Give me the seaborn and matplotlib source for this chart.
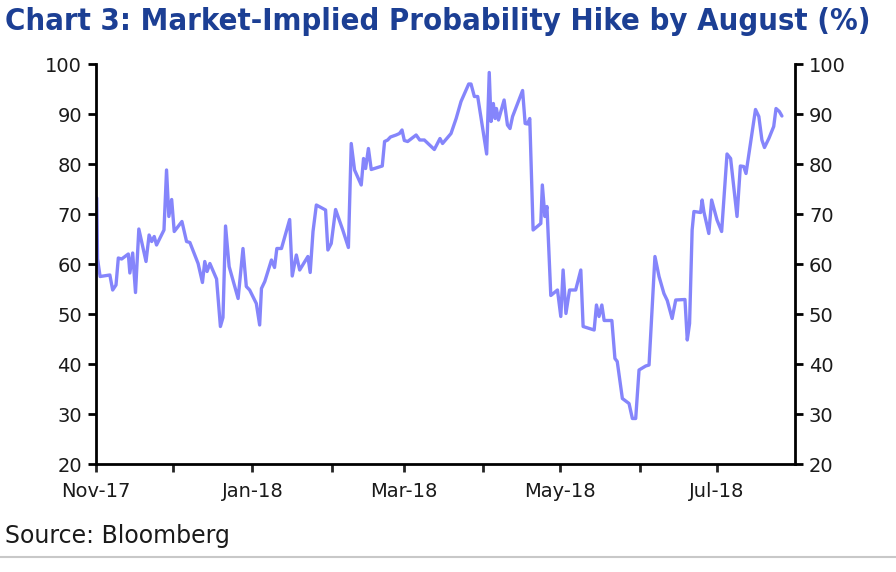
import matplotlib
matplotlib.use("Agg")
import matplotlib.pyplot as plt
import matplotlib.dates as mdates
import seaborn as sns
import pandas as pd
import numpy as np

# days since 2017-11-01 and the implied probability (%)
days = [0.3, 0.6, 1.6, 5.4, 6.5, 7.8, 8.7, 10.0, 11.3, 12.6, 13.2, 14.3, 15.4, 16.7,
        19.5, 20.7, 21.7, 22.7, 23.6, 26.5, 27.5, 28.4, 29.5, 30.5, 33.5, 35.3, 36.6,
        39.8, 41.5, 42.4, 43.3, 44.4, 47.0, 48.5, 49.5, 50.5, 51.9, 55.4, 57.3, 58.6,
        59.9, 62.5, 63.8, 64.5, 65.8, 68.4, 69.6, 70.5, 72.3, 75.5, 76.5, 78.1, 79.4,
        82.6, 83.5, 84.6, 85.9, 89.5, 90.4, 91.7, 93.4, 96.2, 98.4, 99.5, 100.8, 103.4,
        104.3, 105.1, 106.2, 107.3, 111.6, 112.5, 113.7, 114.8, 117.0, 118.3, 119.3,
        120.2, 121.5, 124.8, 126.2, 128.0, 131.9, 134.1, 135.1, 138.4, 140.4, 142.3,
        145.3, 146.2, 147.5, 148.8, 152.3, 153.3, 154.0, 154.9, 155.6, 156.1, 156.9,
        159.1, 160.4, 161.4, 162.4, 166.3, 167.3, 168.2, 169.1, 170.4, 173.4, 174.0,
        175.0, 175.8, 177.3, 179.9, 181.2, 182.1, 183.2, 184.6, 187.0, 189.0, 189.9,
        194.2, 195.1, 196.1, 197.2, 198.1, 201.1, 202.3, 203.2, 205.2, 207.8, 209.1,
        210.4, 211.7, 214.3, 215.6, 217.9, 219.5, 221.4, 222.7, 224.6, 226.0, 229.6,
        230.5, 231.4, 232.4, 233.1, 235.7, 236.3, 237.0, 238.9, 240.0, 242.1, 243.9,
        246.0, 247.4, 249.9, 251.2, 252.5, 253.4, 257.1, 258.4, 259.6, 260.6, 262.3,
        264.2, 265.1, 266.4, 267.4]
prob = [73.2, 61.0, 57.5, 57.8, 54.8, 55.8, 61.2, 61.0, 61.5, 62.0, 58.2, 62.2, 54.3, 67.0,
        60.5, 65.8, 64.5, 65.5, 63.8, 66.8, 78.8, 69.5, 72.9, 66.5, 68.5, 64.5, 64.3,
        60.1, 56.3, 60.5, 58.5, 60.1, 57.0, 47.5, 49.3, 67.6, 59.5, 53.1, 63.1, 55.5,
        54.8, 52.1, 47.8, 55.1, 56.5, 60.8, 59.3, 63.1, 63.1, 68.9, 57.6, 61.8, 58.8,
        61.5, 58.3, 66.5, 71.8, 70.8, 62.8, 64.1, 70.9, 66.8, 63.3, 84.1, 78.8, 75.8,
        81.1, 79.1, 83.1, 78.9, 79.6, 84.5, 84.8, 85.4, 85.8, 86.1, 86.8,
        84.7, 84.5, 85.8, 84.8, 84.8, 82.9, 85.1, 84.1, 86.1, 89.1, 92.5,
        96.0, 96.0, 93.5, 93.5, 82.0, 98.3, 88.5, 92.1, 89.1, 91.1, 88.8,
        92.8, 87.8, 87.1, 89.5, 94.7, 88.1, 88.0, 89.1, 66.8, 68.1, 75.8,
        69.5, 71.5, 53.7, 54.8, 49.5, 58.8, 50.1, 54.8, 54.8, 58.8, 47.5,
        46.8, 51.8, 49.5, 51.8, 48.7, 48.7, 41.1, 40.5, 33.1, 32.1, 29.1,
        29.1, 38.8, 39.6, 39.8, 61.5, 57.5, 54.1, 52.7, 49.1, 52.8, 52.9,
        44.8, 48.1, 66.8, 70.5, 70.3, 72.8, 70.4, 66.1, 72.8, 68.8, 66.5,
        82.0, 81.1, 69.5, 79.6, 79.5, 78.1, 90.9, 89.5, 84.8, 83.3, 85.1,
        87.5, 91.1, 90.5, 89.6]

start = pd.Timestamp("2017-11-01")
end = pd.Timestamp("2018-07-31 12:00")
y_ticks = [20, 30, 40, 50, 60, 70, 80, 90, 100]

df = pd.DataFrame({"date": start + pd.to_timedelta(days, unit="D"), "prob": prob})

sns.set_style("white")
plt.rcParams["font.family"] = ["DejaVu Sans"]

fig = plt.figure(figsize=(8.96, 5.72), dpi=100)
ax = fig.add_axes([96 / 896, 1 - 464 / 572, (795 - 96) / 896, 400 / 572])

sns.lineplot(data=df, x="date", y="prob", ax=ax, color="#8585fb", linewidth=2.4,
             estimator=None, sort=False)

ax.set_xlim(start, end)
ax.set_ylim(20, 100)
ax.set_yticks(y_ticks)
ax.set_xlabel("")
ax.set_ylabel("")

ax.xaxis.set_major_locator(mdates.MonthLocator(bymonth=[1, 3, 5, 7, 11]))
ax.xaxis.set_major_formatter(mdates.DateFormatter("%b-%y"))
ax.xaxis.set_minor_locator(mdates.MonthLocator())

for s in ["left", "right", "bottom"]:
    ax.spines[s].set_visible(True)
    ax.spines[s].set_color("black")
    ax.spines[s].set_linewidth(2.0)
ax.spines["top"].set_visible(False)

ax.tick_params(axis="y", which="both", direction="out", length=6, width=2,
               left=True, right=True, labelleft=True, labelright=True,
               labelsize=14, colors="black", pad=4)
ax.tick_params(axis="x", which="major", direction="out", length=6, width=2,
               bottom=True, labelsize=14, pad=7)
ax.tick_params(axis="x", which="minor", direction="out", length=6, width=2, bottom=True)
for lbl in ax.get_xticklabels() + ax.get_yticklabels():
    lbl.set_color("#1a1a1a")

fig.text(5 / 896, 1 - 22 / 572, "Chart 3: Market-Implied Probability Hike by August (%)",
         ha="left", va="center", fontsize=22.2, fontweight="bold", color="#1c3f94",
         family=["DejaVu Sans"], fontstretch="condensed")
fig.text(5 / 896, 1 - 536 / 572, "Source: Bloomberg", ha="left", va="center",
         fontsize=17, color="#1a1a1a")
fig.add_artist(plt.Line2D([0, 1], [1 - 557 / 572, 1 - 557 / 572],
                          transform=fig.transFigure, color="#c8c8c8", linewidth=1.5))

fig.savefig("out.png", dpi=100)
